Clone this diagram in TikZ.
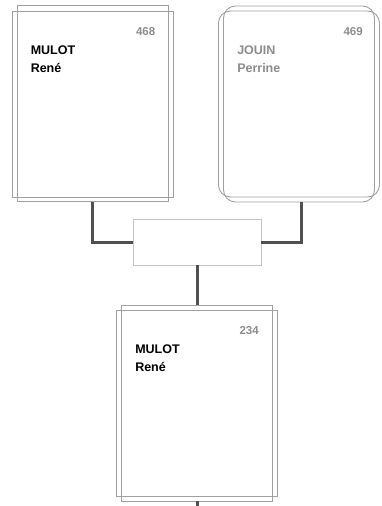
\documentclass[tikz,border=0pt]{standalone}
\usepackage{fontspec}
\setmainfont{Liberation Sans}
\usetikzlibrary{positioning}
\definecolor{cardgray}{HTML}{A0A0A0}
\definecolor{linkgray}{HTML}{505050}
\definecolor{boxgray}{HTML}{C4C4C4}
\definecolor{txtgray}{HTML}{8C8C8C}

\begin{document}
\begin{tikzpicture}[
  x=1pt, y=-1pt,
  card/.style={rectangle, draw=cardgray, line width=0.9pt, inner sep=0pt},
  tall/.style={card, minimum width=151pt, minimum height=196pt},
  wide/.style={card, minimum width=161pt, minimum height=186pt},
  num/.style={font=\fontsize{11.5}{13}\selectfont\bfseries, text=txtgray, inner sep=0pt},
  who/.style={font=\fontsize{12.5}{14}\selectfont\bfseries, inner sep=0pt},
  link/.style={draw=linkgray, line width=3pt}
]
\useasboundingbox (0,0) rectangle (382,506);

% father
\node[tall] (p468) at (92.5,103.5) {};
\node[wide] (p468w) at (92.5,104) {};
\node[num, anchor=base east] (n468) at ([xshift=-13pt, yshift=-30pt]p468.north east) {468};
\node[who, anchor=base west] (s468) at ([xshift=14pt, yshift=-49pt]p468.north west) {MULOT};
\node[who, anchor=base west] (f468) at ([yshift=-18pt]s468.base west) {René};

% mother
\node[tall, rounded corners=12pt] (p469) at (299,104) {};
\node[wide, rounded corners=12pt] (p469w) at (299,104) {};
\node[num, anchor=base east] (n469) at ([xshift=-12pt, yshift=-30pt]p469.north east) {469};
\node[who, text=txtgray, anchor=base west] (s469) at ([xshift=14pt, yshift=-49pt]p469.north west) {JOUIN};
\node[who, text=txtgray, anchor=base west] (f469) at ([yshift=-18pt]s469.base west) {Perrine};

% union
\node[rectangle, draw=boxgray, line width=0.9pt, minimum width=128pt, minimum height=46pt] (union) at (197,242) {};

% child
\node[tall] (p234) at (197,403) {};
\node[wide] (p234w) at (197,403.5) {};
\node[num, anchor=base east] (n234) at ([xshift=-14pt, yshift=-30pt]p234.north east) {234};
\node[who, anchor=base west] (s234) at ([xshift=14pt, yshift=-49pt]p234.north west) {MULOT};
\node[who, anchor=base west] (f234) at ([yshift=-18pt]s234.base west) {René};
\coordinate (down) at (197,506);

\draw[link] (p468.south) |- (union.west);
\draw[link] ([xshift=2pt]p469.south) |- (union.east);
\draw[link] (union.south) -- (p234.north);
\draw[link] (p234.south) -- (down);
\end{tikzpicture}
\end{document}
